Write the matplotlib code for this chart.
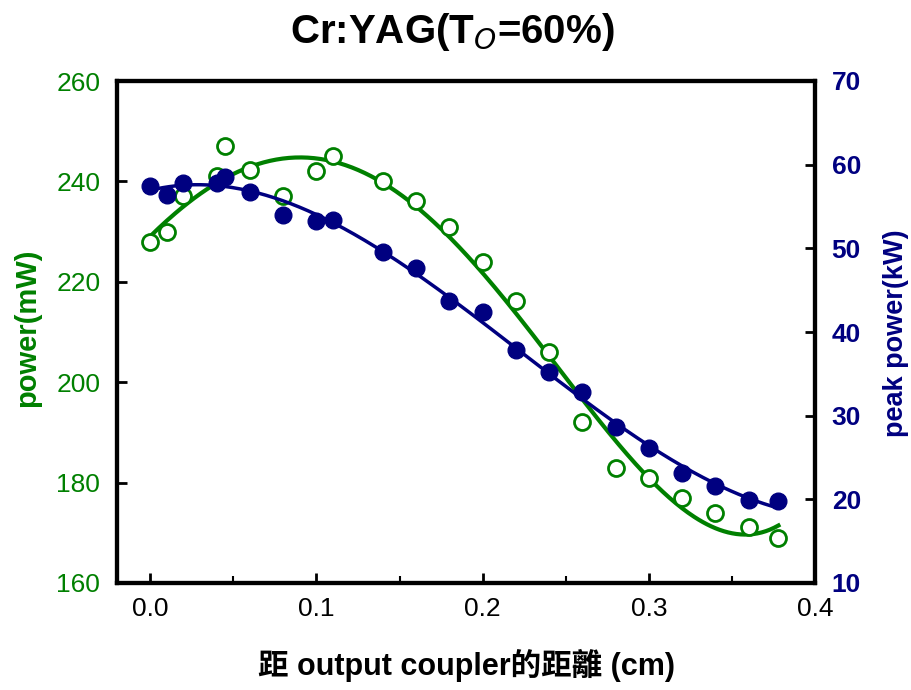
import numpy as np
import matplotlib
matplotlib.use("Agg")
import matplotlib.pyplot as plt
from matplotlib.ticker import MultipleLocator

# distance from output coupler (cm)
x_power = [0.0, 0.01, 0.02, 0.04, 0.045, 0.06, 0.08, 0.10, 0.11, 0.14, 0.16,
           0.18, 0.20, 0.22, 0.24, 0.26, 0.28, 0.30, 0.32, 0.34, 0.36, 0.378]
power_mw = [228, 230, 237, 241, 247, 242.3, 237, 242, 245, 240, 236,
            231, 224, 216.2, 206, 192, 183, 181, 177, 174, 171.2, 169]

x_peak = [0.0, 0.01, 0.02, 0.04, 0.045, 0.06, 0.08, 0.10, 0.11, 0.14, 0.16,
          0.18, 0.20, 0.22, 0.24, 0.26, 0.28, 0.30, 0.32, 0.34, 0.36, 0.378]
peak_kw = [57.5, 56.4, 57.8, 57.8, 58.5, 56.7, 54.0, 53.3, 53.4, 49.6, 47.6,
           43.7, 42.4, 37.9, 35.2, 32.8, 28.7, 26.1, 23.1, 21.6, 19.9, 19.8]

x_ticks = [0.0, 0.1, 0.2, 0.3, 0.4]
left_ticks = [160, 180, 200, 220, 240, 260]
right_ticks = [10, 20, 30, 40, 50, 60, 70]

GREEN = "#008000"
NAVY = "#000080"

plt.rcParams['font.family'] = ['Liberation Sans', 'Noto Sans CJK TC', 'DejaVu Sans']

W, H = 912, 690
fig = plt.figure(figsize=(W/100, H/100), dpi=100)
ax = fig.add_axes([117/W, 1-583/H, (815-117)/W, (583-81)/H])
ax2 = ax.twinx()

# fitted curves (polynomial fits of the data)
xf = np.linspace(0.0, 0.378, 300)
pg = np.polyfit(x_power, power_mw, 4)
pb = np.polyfit(x_peak, peak_kw, 3)
ax.plot(xf, np.polyval(pg, xf), color=GREEN, lw=3, zorder=2)
ax.plot(x_power, power_mw, 'o', ms=11.5, mfc='white', mec=GREEN, mew=2, zorder=3)
ax2.plot(xf, np.polyval(pb, xf), color=NAVY, lw=2.5, zorder=2)
ax2.plot(x_peak, peak_kw, 'o', ms=12, color=NAVY, zorder=3)

ax.set_xlim(-0.02, 0.4)
ax.set_ylim(160, 260)
ax2.set_ylim(10, 70)
ax.set_xticks(x_ticks)
ax.set_xticklabels([f"{v:.1f}" for v in x_ticks])
ax.xaxis.set_minor_locator(MultipleLocator(0.05))
ax.set_yticks(left_ticks)
ax2.set_yticks(right_ticks)

for a in (ax, ax2):
    for s in a.spines.values():
        s.set_linewidth(3)
ax.tick_params(axis='x', which='major', direction='in', length=7, width=2,
               labelsize=19, pad=10, colors='black')
ax.tick_params(axis='x', which='minor', direction='in', length=5, width=1.5)
ax.tick_params(axis='y', direction='in', length=7, width=2, labelsize=19,
               labelcolor=GREEN, pad=12)
ax2.tick_params(axis='y', direction='in', length=7, width=2, labelsize=19,
                labelcolor=NAVY, pad=12)
for lbl in ax2.get_yticklabels():
    lbl.set_fontweight('bold')

fig.text(27/W, 1-328/H, "power(mW)", color=GREEN, fontsize=21, fontweight='bold',
         rotation=90, ha='center', va='center')
fig.text(896/W, 1-333/H, "peak power(kW)", color=NAVY, fontsize=19.5, fontweight='bold',
         rotation=90, ha='center', va='center')
fig.text(467/W, 1-665/H, "距 output coupler的距離 (cm)", fontsize=22, fontweight='bold',
         ha='center', va='center')
fig.text(452/W, 1-32/H, r"Cr:YAG(T$_{O}$=60%)", fontsize=29, fontweight='bold',
         ha='center', va='center')

fig.savefig("out.png", dpi=100)
